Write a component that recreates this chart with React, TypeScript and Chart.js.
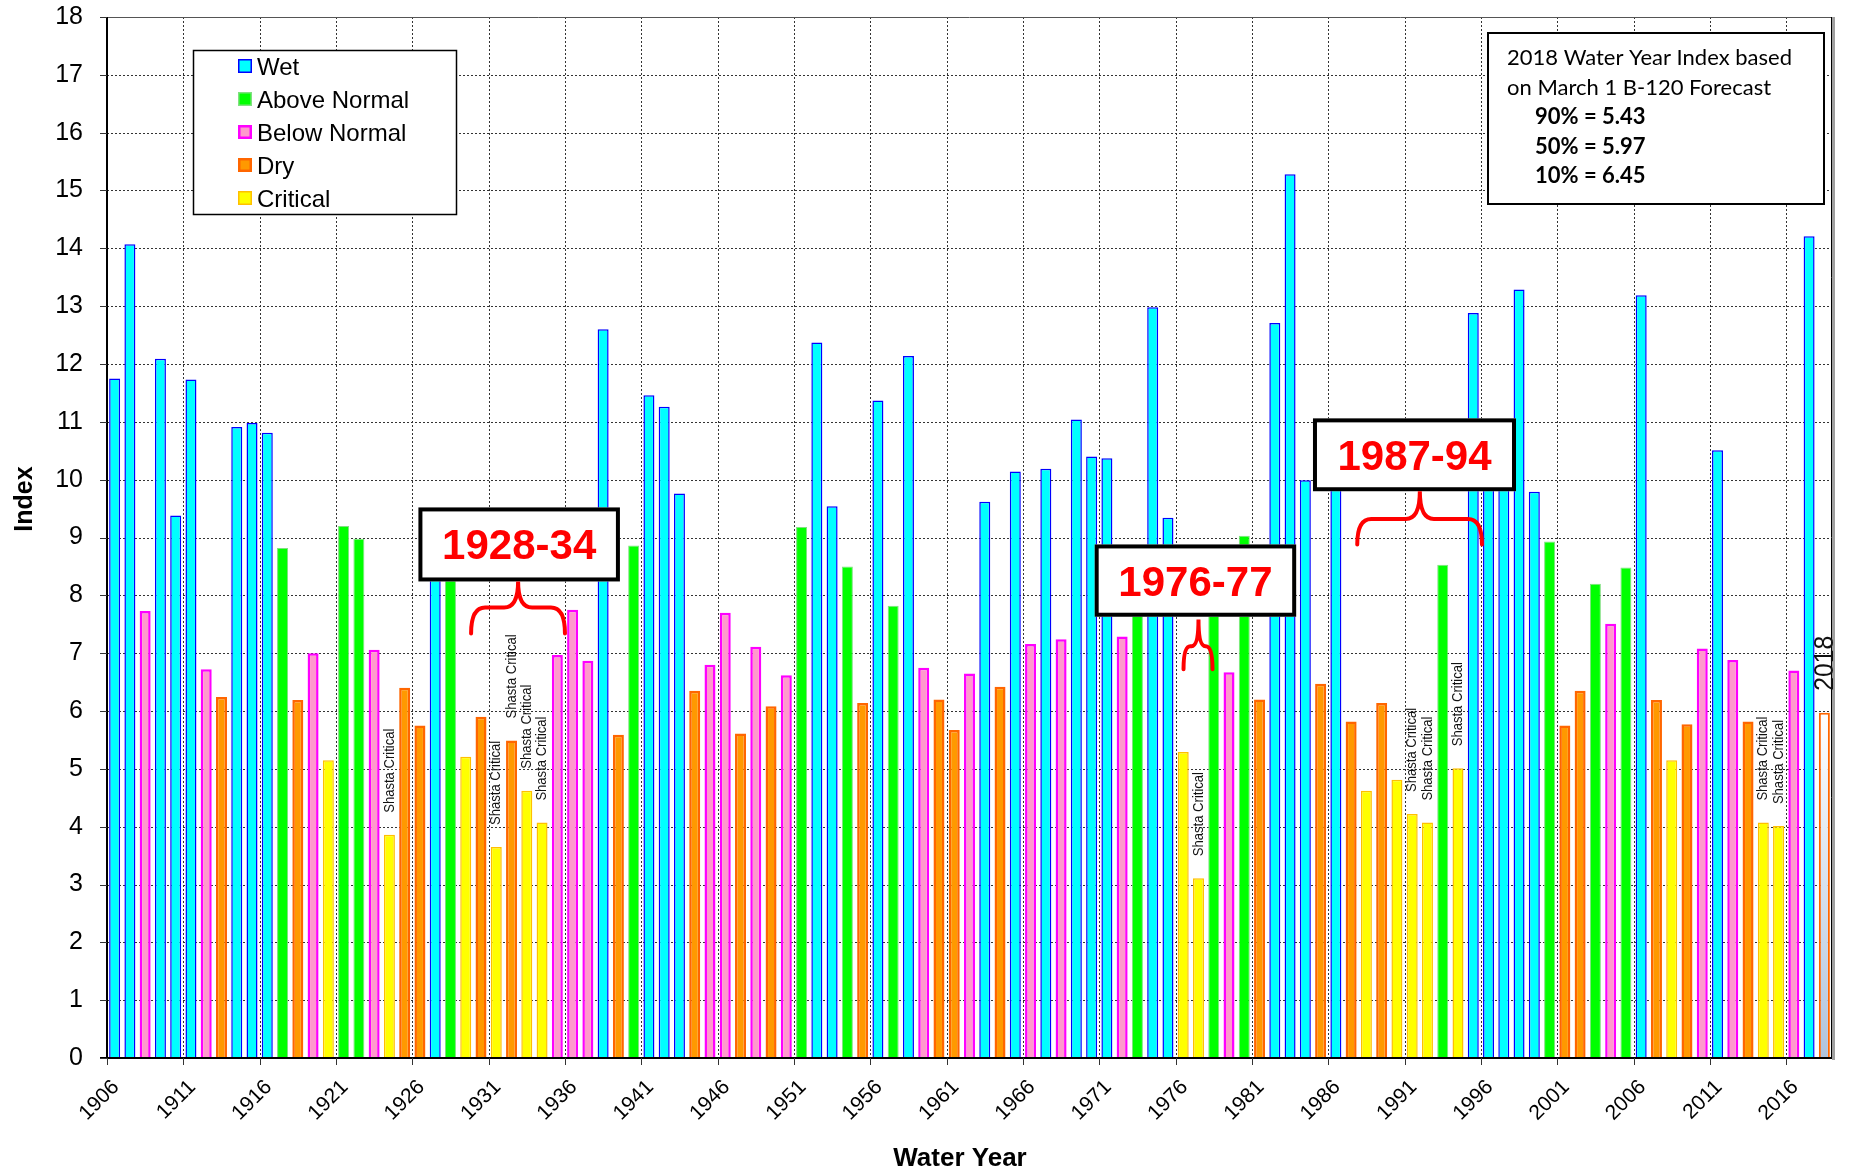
import React, { useEffect, useRef } from "react";
import { Chart, registerables } from "chart.js";

Chart.register(...registerables);

const FIRST_YEAR = 1906;
const LAST_YEAR = 2018;

// Sacramento Valley Water Year Index, 1906 .. 2018 (2018 = forecast)
const indexValues: number[] = [
  11.75, 14.07, 7.73, 12.09, 9.38, 11.73, 6.72, 6.24, 10.91, 10.98, // 1906-1915
  10.81, 8.82, 6.19, 7.0, 5.15, 9.2, 8.98, 7.06, 3.86, 6.4, // 1916-1925
  5.75, 9.4, 8.6, 5.21, 5.9, 3.65, 5.49, 4.62, 4.07, 6.97, // 1926-1935
  7.75, 6.87, 12.6, 5.59, 8.86, 11.46, 11.26, 9.76, 6.35, 6.8, // 1936-1945
  7.7, 5.61, 7.11, 6.08, 6.62, 9.18, 12.37, 9.54, 8.5, 6.14, // 1946-1955
  11.37, 7.82, 12.14, 6.75, 6.2, 5.67, 6.65, 9.62, 6.42, 10.14, // 1956-1965
  7.16, 10.19, 7.24, 11.04, 10.4, 10.37, 7.29, 8.58, 12.98, 9.34, // 1966-1975
  5.29, 3.11, 8.65, 6.67, 9.03, 6.2, 12.71, 15.28, 9.99, 6.47, // 1976-1985
  9.96, 5.82, 4.62, 6.14, 4.81, 4.22, 4.07, 8.53, 5.01, 12.88, // 1986-1995
  10.26, 10.82, 13.29, 9.79, 8.93, 5.75, 6.35, 8.2, 7.51, 8.48, // 1996-2005
  13.19, 6.19, 5.15, 5.77, 7.08, 10.51, 6.88, 5.82, 4.07, 4.01, // 2006-2015
  6.7, 14.21, 5.97, // 2016-2018
];

const yearTypes: string[] = [
  "W", "W", "BN", "W", "W", "W", "BN", "D", "W", "W",
  "W", "AN", "D", "BN", "C", "AN", "AN", "BN", "C", "D",
  "D", "W", "AN", "C", "D", "C", "D", "C", "C", "BN",
  "BN", "BN", "W", "D", "AN", "W", "W", "W", "D", "BN",
  "BN", "D", "BN", "D", "BN", "AN", "W", "W", "AN", "D",
  "W", "AN", "W", "BN", "D", "D", "BN", "W", "D", "W",
  "BN", "W", "BN", "W", "W", "W", "BN", "AN", "W", "W",
  "C", "C", "AN", "BN", "AN", "D", "W", "W", "W", "D",
  "W", "D", "C", "D", "C", "C", "C", "AN", "C", "W",
  "W", "W", "W", "W", "AN", "D", "D", "AN", "BN", "AN",
  "W", "D", "C", "D", "BN", "W", "BN", "D", "C", "C",
  "BN", "W", "F",
];

const typeCodes = ["W", "AN", "BN", "D", "C"];
const legendLabels = ["Wet", "Above Normal", "Below Normal", "Dry", "Critical"];

const tickYears = [
  1906, 1911, 1916, 1921, 1926, 1931, 1936, 1941, 1946, 1951, 1956, 1961,
  1966, 1971, 1976, 1981, 1986, 1991, 1996, 2001, 2006, 2011, 2016,
];

const shastaCriticalYears = [1924, 1931, 1932, 1933, 1934, 1977, 1991, 1992, 1994, 2014, 2015];

const forecastTitle = ["2018 Water Year Index based", "on March 1 B-120 Forecast"];
const forecastLevels = ["90%", "50%", "10%"];
const forecastValues = ["5.43", "5.97", "6.45"];

const periodLabels = ["1928-34", "1976-77", "1987-94"];

// annotation geometry in data units: [xLeft, xRight, yTop, yBottom]
const periodBoxes = [
  [1926.4, 1939.6, 9.52, 8.24],
  [1970.7, 1983.9, 8.88, 7.63],
  [1985.0, 1998.3, 11.06, 9.8],
];
// brace: [xLeft, xRight, xCenter, yPeak, yArm, yEnd]
const periodBraces = [
  [1929.85, 1936.0, 1932.93, 8.24, 7.79, 7.34],
  [1976.52, 1978.42, 1977.5, 7.58, 7.12, 6.72],
  [1987.9, 1996.07, 1992.0, 9.8, 9.32, 8.88],
];

const TYPE_STYLES: Record<string, { fill: string; border: string; width: number }> = {
  W: { fill: "#00FFFF", border: "#0000FF", width: 1.5 },
  AN: { fill: "#00FF00", border: "#80E080", width: 1 },
  BN: { fill: "#FF99CC", border: "#FF00FF", width: 2.5 },
  D: { fill: "#FF9900", border: "#FF6600", width: 2.5 },
  C: { fill: "#FFFF00", border: "#FFC000", width: 1.5 },
};

const ARIAL = "'Liberation Sans', Arial, sans-serif";
const CALIBRI = "Lato, 'Open Sans', sans-serif";

function pointsFor(code: string) {
  const pts: { x: number; y: number }[] = [];
  indexValues.forEach((v, i) => {
    if (yearTypes[i] === code) pts.push({ x: FIRST_YEAR + i + 0.5, y: v });
  });
  return pts;
}

const decorPlugin = {
  id: "decor",
  beforeDatasetsDraw(chart: any) {
    const { ctx, chartArea: a, scales } = chart;
    const x = scales.x;
    const y = scales.y;
    ctx.save();
    ctx.lineWidth = 1;
    ctx.strokeStyle = "#333";
    ctx.setLineDash([2, 2]);
    y.ticks.forEach((t: any) => {
      if (t.value <= 0 || t.value >= 18) return;
      const py = Math.round(y.getPixelForValue(t.value)) + 0.5;
      ctx.beginPath();
      ctx.moveTo(a.left, py);
      ctx.lineTo(a.right, py);
      ctx.stroke();
    });
    tickYears.forEach((t) => {
      if (t === FIRST_YEAR) return;
      const px = Math.round(x.getPixelForValue(t)) + 0.5;
      ctx.beginPath();
      ctx.moveTo(px, a.top);
      ctx.lineTo(px, a.bottom);
      ctx.stroke();
    });
    ctx.restore();
  },
  afterDatasetsDraw(chart: any) {
    const { ctx, chartArea: a, scales } = chart;
    const x = scales.x;
    const y = scales.y;
    ctx.save();
    ctx.setLineDash([]);

    // frame
    ctx.strokeStyle = "#555";
    ctx.lineWidth = 1;
    ctx.beginPath();
    ctx.moveTo(a.left, a.top + 0.5);
    ctx.lineTo(a.right, a.top + 0.5);
    ctx.stroke();
    ctx.strokeStyle = "#000";
    ctx.beginPath();
    ctx.moveTo(a.right - 0.5, a.top);
    ctx.lineTo(a.right - 0.5, a.bottom);
    ctx.stroke();
    ctx.strokeStyle = "#A0A0A0";
    ctx.lineWidth = 3;
    ctx.beginPath();
    ctx.moveTo(a.right + 1.5, a.top);
    ctx.lineTo(a.right + 1.5, a.bottom + 2);
    ctx.stroke();
    // bottom axis
    ctx.strokeStyle = "#000";
    ctx.lineWidth = 2;
    ctx.beginPath();
    ctx.moveTo(a.left - 7, a.bottom);
    ctx.lineTo(a.right, a.bottom);
    ctx.stroke();
    // left axis
    ctx.lineWidth = 2;
    ctx.beginPath();
    ctx.moveTo(a.left, a.top);
    ctx.lineTo(a.left, a.bottom);
    ctx.stroke();
    // tick marks
    ctx.lineWidth = 1;
    ctx.strokeStyle = "#333";
    y.ticks.forEach((t: any) => {
      const py = Math.round(y.getPixelForValue(t.value)) + 0.5;
      ctx.beginPath();
      ctx.moveTo(a.left - 7, py);
      ctx.lineTo(a.left, py);
      ctx.stroke();
    });
    tickYears.forEach((t) => {
      const px = Math.round(x.getPixelForValue(t)) + 0.5;
      ctx.beginPath();
      ctx.moveTo(px, a.bottom);
      ctx.lineTo(px, a.bottom + 7);
      ctx.stroke();
    });

    // Shasta Critical labels
    ctx.fillStyle = "#111";
    ctx.font = `15px ${ARIAL}`;
    ctx.textAlign = "left";
    ctx.textBaseline = "middle";
    shastaCriticalYears.forEach((yr) => {
      const i = yr - FIRST_YEAR;
      const px = x.getPixelForValue(yr + 0.5);
      const py = y.getPixelForValue(indexValues[i]) - 22;
      ctx.save();
      ctx.translate(px, py);
      ctx.rotate(-Math.PI / 2);
      ctx.scale(0.87, 1);
      ctx.fillText("Shasta Critical", 0, 0);
      ctx.restore();
    });
    // 2018 label
    {
      const i = LAST_YEAR - FIRST_YEAR;
      const px = x.getPixelForValue(LAST_YEAR + 0.5) + 1;
      const py = y.getPixelForValue(indexValues[i]) - 22;
      ctx.save();
      ctx.translate(px, py);
      ctx.rotate(-Math.PI / 2);
      ctx.scale(0.88, 1);
      ctx.font = `28px ${ARIAL}`;
      ctx.fillStyle = "#111";
      ctx.fillText(String(LAST_YEAR), 0, 0);
      ctx.restore();
    }

    // legend box
    ctx.fillStyle = "#fff";
    ctx.fillRect(193, 50, 264, 165);
    ctx.strokeStyle = "#000";
    ctx.lineWidth = 1.5;
    ctx.strokeRect(193.5, 50.5, 263, 164);
    const rows = [66, 99, 132, 165, 198];
    typeCodes.forEach((code, k) => {
      const st = TYPE_STYLES[code];
      const cy = rows[k];
      ctx.fillStyle = st.fill;
      ctx.fillRect(238, cy - 7, 14, 14);
      ctx.strokeStyle = st.border;
      ctx.lineWidth = Math.max(1.5, st.width);
      ctx.strokeRect(238 + ctx.lineWidth / 2, cy - 7 + ctx.lineWidth / 2, 14 - ctx.lineWidth, 14 - ctx.lineWidth);
      ctx.fillStyle = "#000";
      ctx.font = `24px ${ARIAL}`;
      ctx.textAlign = "left";
      ctx.textBaseline = "alphabetic";
      ctx.fillText(legendLabels[k], 257, cy + 8.5);
    });

    // forecast text box
    ctx.fillStyle = "#fff";
    ctx.fillRect(1487, 32, 338, 173);
    ctx.strokeStyle = "#000";
    ctx.lineWidth = 2;
    ctx.strokeRect(1488, 33, 336, 171);
    ctx.fillStyle = "#000";
    ctx.textAlign = "left";
    ctx.textBaseline = "alphabetic";
    ctx.font = `22px ${CALIBRI}`;
    ctx.fillText(forecastTitle[0], 1507, 65);
    ctx.fillText(forecastTitle[1], 1507, 95);
    ctx.font = `bold 22px ${CALIBRI}`;
    forecastLevels.forEach((lv, k) => {
      ctx.fillText(`${lv} = ${forecastValues[k]}`, 1535, 124 + k * 29.5);
    });

    // period annotations
    periodLabels.forEach((lab, k) => {
      const [x0, x1, y0, y1] = periodBoxes[k];
      const L = x.getPixelForValue(x0);
      const R = x.getPixelForValue(x1);
      const T = y.getPixelForValue(y0);
      const B = y.getPixelForValue(y1);
      ctx.fillStyle = "#fff";
      ctx.fillRect(L, T, R - L, B - T);
      ctx.strokeStyle = "#000";
      ctx.lineWidth = 4;
      ctx.strokeRect(L + 2, T + 2, R - L - 4, B - T - 4);
      ctx.fillStyle = "#FF0000";
      ctx.font = `bold 42px ${ARIAL}`;
      ctx.textAlign = "center";
      ctx.textBaseline = "alphabetic";
      ctx.fillText(lab, (L + R) / 2, (T + B) / 2 + 15);

      const [bl, br, bc, yp, ya, ye] = periodBraces[k];
      const xl = x.getPixelForValue(bl);
      const xr = x.getPixelForValue(br);
      const xc = x.getPixelForValue(bc);
      const pk = y.getPixelForValue(yp);
      const arm = y.getPixelForValue(ya);
      const end = y.getPixelForValue(ye);
      const r = Math.min(14, (xc - xl) / 2.2);
      ctx.strokeStyle = "#FF0000";
      ctx.lineWidth = 4;
      ctx.lineCap = "round";
      ctx.beginPath();
      ctx.moveTo(xl, end);
      ctx.quadraticCurveTo(xl, arm, xl + r, arm);
      ctx.lineTo(xc - r, arm);
      ctx.quadraticCurveTo(xc, arm, xc, pk);
      ctx.quadraticCurveTo(xc, arm, xc + r, arm);
      ctx.lineTo(xr - r, arm);
      ctx.quadraticCurveTo(xr, arm, xr, end);
      ctx.stroke();
    });

    // axis titles
    ctx.fillStyle = "#000";
    ctx.font = `bold 25px ${ARIAL}`;
    ctx.textAlign = "center";
    ctx.textBaseline = "alphabetic";
    ctx.save();
    ctx.translate(32, 499);
    ctx.rotate(-Math.PI / 2);
    ctx.fillText("Index", 0, 0);
    ctx.restore();
    ctx.font = `bold 26px ${ARIAL}`;
    ctx.fillText("Water Year", 960, 1166);

    ctx.restore();
  },
};

export default function App() {
  const ref = useRef<HTMLCanvasElement | null>(null);

  useEffect(() => {
    document.body.style.margin = "0";
    if (!ref.current) return;

    const datasets: any[] = typeCodes.map((code, k) => ({
      label: legendLabels[k],
      data: pointsFor(code),
      backgroundColor: TYPE_STYLES[code].fill,
      borderColor: TYPE_STYLES[code].border,
      borderWidth: TYPE_STYLES[code].width,
      grouped: false,
      barPercentage: 0.72,
      categoryPercentage: 1,
    }));
    datasets.push({
      label: "Forecast",
      data: pointsFor("F"),
      backgroundColor: (c: any) => {
        const ch = c.chart;
        const a = ch.chartArea;
        if (!a || !c.parsed) return "#C8D6E8";
        const top = ch.scales.y.getPixelForValue(c.parsed.y);
        const g = ch.ctx.createLinearGradient(0, top, 0, a.bottom);
        g.addColorStop(0, "#FFFFFF");
        g.addColorStop(1, "#AFC3DC");
        return g;
      },
      borderColor: "#FF6600",
      borderWidth: 2,
      grouped: false,
      barPercentage: 0.72,
      categoryPercentage: 1,
    });

    const chart = new Chart(ref.current, {
      type: "bar",
      data: { datasets },
      options: {
        animation: false,
        responsive: false,
        devicePixelRatio: 1,
        layout: { padding: { top: 17, right: 22, left: 0, bottom: 0 } },
        plugins: { legend: { display: false }, tooltip: { enabled: false } },
        scales: {
          x: {
            type: "linear",
            offset: false,
            min: FIRST_YEAR,
            max: LAST_YEAR + 1,
            grid: { display: false, drawTicks: false },
            border: { display: false },
            afterBuildTicks: (axis: any) => {
              axis.ticks = tickYears.map((v) => ({ value: v }));
            },
            afterFit: (axis: any) => {
              axis.height = 114;
              axis.paddingLeft = 0;
              axis.paddingRight = 0;
            },
            ticks: {
              autoSkip: false,
              minRotation: 45,
              maxRotation: 45,
              padding: 17,
              labelOffset: 9,
              color: "#000",
              font: { family: "'Liberation Sans', Arial, sans-serif", size: 21 },
              callback: (v: any) => String(v),
            },
          },
          y: {
            min: 0,
            max: 18,
            grid: { display: false, drawTicks: false },
            border: { display: false },
            afterFit: (axis: any) => {
              axis.width = 107;
              axis.paddingTop = 0;
              axis.paddingBottom = 0;
            },
            ticks: {
              stepSize: 1,
              padding: 24,
              color: "#000",
              font: { family: "'Liberation Sans', Arial, sans-serif", size: 25 },
              callback: (v: any) => String(v),
            },
          },
        },
      } as any,
      plugins: [decorPlugin],
    });

    return () => chart.destroy();
  }, []);

  return (
    <div style={{ position: "absolute", left: 0, top: 0, width: 1854, height: 1172, background: "#fff" }}>
      <canvas ref={ref} width={1854} height={1172} style={{ display: "block", width: 1854, height: 1172 }} />
    </div>
  );
}
